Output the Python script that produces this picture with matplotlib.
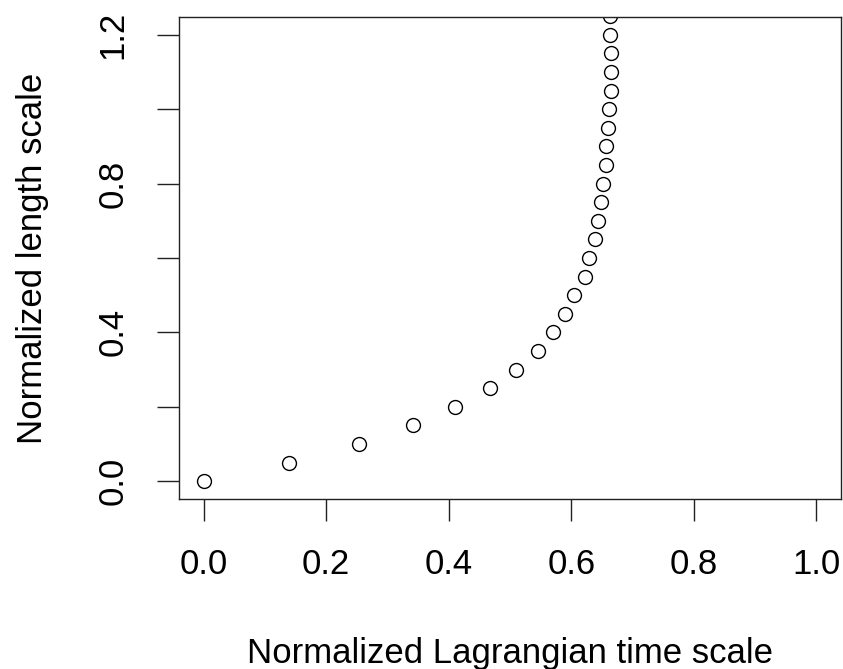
#!/usr/bin/python
# -*- coding: utf-8 -*-
"""
Normalized length scale vs normalized Lagrangian time scale
(points read off the reference figure)
"""
import numpy as np
import matplotlib
matplotlib.use('Agg')
import matplotlib.pyplot as plt

####################### DATA #######################
time_scale = [0.000, 0.140, 0.254, 0.341, 0.411, 0.467, 0.509, 0.546,
              0.570, 0.589, 0.605, 0.622, 0.629, 0.638, 0.644, 0.648,
              0.652, 0.657, 0.657, 0.660, 0.661, 0.664, 0.664, 0.664,
              0.663, 0.663]
length_scale = [0.00, 0.05, 0.10, 0.15, 0.20, 0.25, 0.30, 0.35, 0.40,
                0.45, 0.50, 0.55, 0.60, 0.65, 0.70, 0.75, 0.80, 0.85,
                0.90, 0.95, 1.00, 1.05, 1.10, 1.15, 1.20, 1.25]

x_ticks = [0.0, 0.2, 0.4, 0.6, 0.8, 1.0]
x_ticklabels = ['0.0', '0.2', '0.4', '0.6', '0.8', '1.0']
y_ticks = [0.0, 0.2, 0.4, 0.6, 0.8, 1.0, 1.2]
y_ticklabels = ['0.0', '', '0.4', '', '0.8', '', '1.2']

x_label = 'Normalized Lagrangian time scale'
y_label = 'Normalized length scale'
####################################################

fontsize = 25
plt.rcParams['font.family'] = ['Liberation Sans', 'DejaVu Sans']

fig = plt.figure(figsize=(8.43, 6.69), dpi=100)
ax = fig.add_axes([179/843, 170/669, 662/843, 482/669])

ax.plot(time_scale, length_scale, linestyle='none', marker='o',
        markersize=10, markerfacecolor='none', markeredgecolor='black',
        markeredgewidth=1.0, clip_on=True)

# R style axis ranges (4 % extension)
ax.set_xlim(-0.04, 1.04)
ax.set_ylim(-0.048, 1.248)

ax.set_xticks(x_ticks)
ax.set_xticklabels(x_ticklabels)
ax.set_yticks(y_ticks)
ax.set_yticklabels(y_ticklabels, rotation=90, va='center')

ax.tick_params(axis='both', direction='out', length=15.5, width=1.0,
               color='#222222', labelsize=fontsize, pad=20)
ax.tick_params(axis='y', pad=20)

for spine in ax.spines.values():
    spine.set_linewidth(1.0)
    spine.set_color('#222222')

ax.set_xlabel(x_label, fontsize=fontsize)
ax.set_ylabel(y_label, fontsize=fontsize)
ax.xaxis.set_label_coords(0.5, -0.286)
ax.yaxis.set_label_coords(-0.196, 0.5)

plt.savefig('out.png', dpi=100)
plt.close(fig)
